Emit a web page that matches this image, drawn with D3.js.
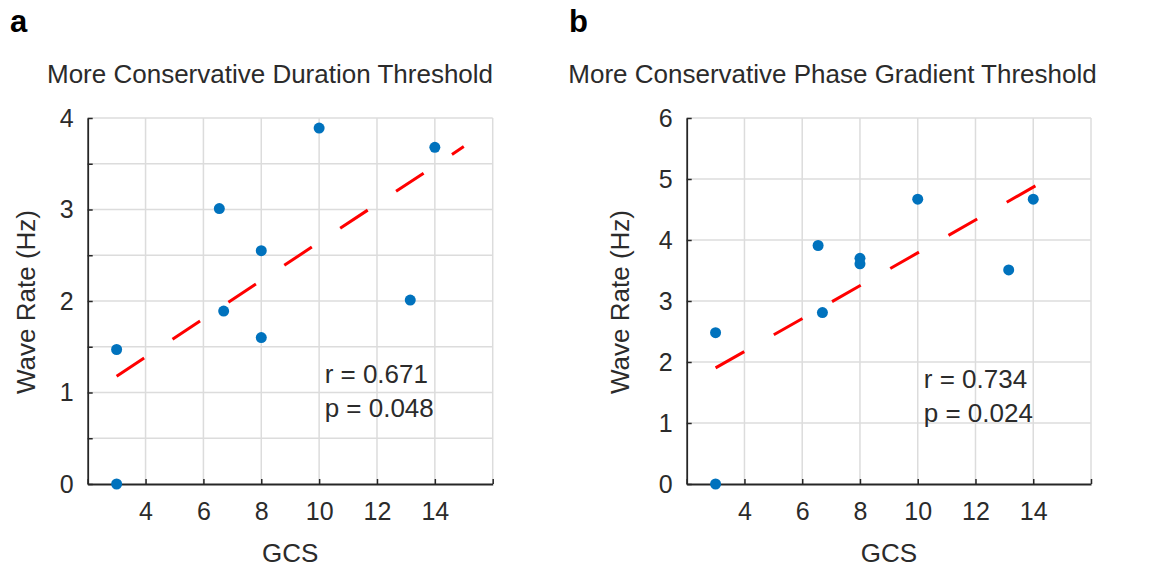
<!DOCTYPE html>
<html>
<head>
<meta charset="utf-8">
<script src="https://cdn.jsdelivr.net/npm/d3@7"></script>
<style>
  body { margin: 0; background: #fff; }
  svg text { font-family: "Liberation Sans", Arial, sans-serif; fill: #2b2b2b; }
  .axis path, .axis line { stroke: #262626; }
</style>
</head>
<body>
<svg id="container" width="1158" height="569"></svg>
<script>
// GCS score of each patient (same patients in both panels)
const gcs = [3, 3, 6.55, 6.7, 8, 8, 10, 13.15, 14];
// wave rate (Hz) under the two stricter thresholds
const rateDuration = [1.47, 0, 3.01, 1.89, 2.55, 1.6, 3.89, 2.01, 3.68];
const ratePhase = [2.48, 0, 3.91, 2.81, 3.70, 3.61, 4.67, 3.51, 4.67];

const panelLetters = ["a", "b"];
const titles = ["More Conservative Duration Threshold", "More Conservative Phase Gradient Threshold"];
const statTexts = [["r = 0.671", "p = 0.048"], ["r = 0.734", "p = 0.024"]];
const xTicks = [2, 4, 6, 8, 10, 12, 14, 16];
const xLabelled = [4, 6, 8, 10, 12, 14];
const yTicksA = [0, 0.5, 1, 1.5, 2, 2.5, 3, 3.5, 4];
const yTicksB = [0, 1, 2, 3, 4, 5, 6];

var svg = d3.select("#container");

function fit(xs, ys) {
	var mx = d3.mean(xs), my = d3.mean(ys);
	var sxy = d3.sum(xs, (x, i) => (x - mx) * (ys[i] - my));
	var sxx = d3.sum(xs, x => (x - mx) * (x - mx));
	var b = sxy / sxx;
	return {slope: b, icpt: my - b * mx};
}

function drawPanel(opt) {
	var g = svg.append("g");

	var x = d3.scaleLinear().domain([2, 16]).range([opt.left, opt.right]);
	var y = d3.scaleLinear().domain([0, opt.ymax]).range([484, 118]);

	// panel letter + title
	g.append("text")
		.attr("x", opt.letterX).attr("y", 31.5)
		.style("font-size", "31px").style("font-weight", "bold").style("fill", "#000")
		.text(opt.letter);
	g.append("text")
		.attr("x", opt.titleX).attr("y", 83)
		.attr("text-anchor", "middle")
		.style("font-size", "26px")
		.text(opt.title);

	// grid
	g.append("g").selectAll("line").data(xTicks.slice(1)).enter().append("line")
		.attr("x1", d => x(d)).attr("x2", d => x(d))
		.attr("y1", y(0)).attr("y2", y(opt.ymax))
		.attr("stroke", "#dcdcdc").attr("stroke-width", 1.5);
	g.append("g").selectAll("line").data(opt.yTicks.slice(1)).enter().append("line")
		.attr("x1", x(2)).attr("x2", x(16))
		.attr("y1", d => y(d)).attr("y2", d => y(d))
		.attr("stroke", "#dcdcdc").attr("stroke-width", 1.5);

	// axes
	var gX = g.append("g").attr("class", "axis")
		.attr("transform", "translate(0," + y(0) + ")")
		.call(d3.axisBottom(x).tickValues(xTicks).tickSizeInner(-5).tickSizeOuter(0).tickPadding(18)
			.tickFormat(d => xLabelled.indexOf(d) >= 0 ? d : ""));
	var gY = g.append("g").attr("class", "axis")
		.attr("transform", "translate(" + x(2) + ",0)")
		.call(d3.axisLeft(y).tickValues(opt.yTicks).tickSizeInner(-5).tickSizeOuter(0).tickPadding(14)
			.tickFormat(d => Number.isInteger(d) ? d : ""));
	g.selectAll(".axis path").attr("stroke-width", 1.8);
	g.selectAll(".axis line").attr("stroke-width", 1.5);
	g.selectAll(".axis text").style("font-size", "25px").style("font-family", null);

	// axis titles
	g.append("text")
		.attr("x", (opt.left + opt.right) / 2).attr("y", 562)
		.attr("text-anchor", "middle")
		.style("font-size", "26px")
		.text("GCS");
	g.append("text")
		.attr("transform", "translate(" + opt.ylabX + ",302) rotate(-90)")
		.attr("text-anchor", "middle")
		.style("font-size", "26px")
		.text("Wave Rate (Hz)");

	// least squares line, dashed
	var f = fit(gcs, opt.rates);
	g.append("line")
		.attr("x1", x(3)).attr("y1", y(f.icpt + f.slope * 3))
		.attr("x2", x(15)).attr("y2", y(f.icpt + f.slope * 15))
		.attr("stroke", "#ff0000").attr("stroke-width", 3)
		.attr("stroke-dasharray", "33,34");

	// points
	g.append("g").selectAll("circle").data(opt.rates).enter().append("circle")
		.attr("cx", (d, i) => x(gcs[i]))
		.attr("cy", d => y(d))
		.attr("r", 5.5)
		.attr("fill", "#0072bd");

	// stats
	g.append("g").selectAll("text").data(opt.stats).enter().append("text")
		.attr("x", x(opt.statPos[0]))
		.attr("y", (d, i) => y(opt.statPos[1 + i]))
		.style("font-size", "26px")
		.text(d => d);
}

drawPanel({letter: panelLetters[0], letterX: 10, title: titles[0], titleX: 270,
	left: 87.7, right: 492.7, ymax: 4, yTicks: yTicksA, rates: rateDuration,
	ylabX: 35, stats: statTexts[0], statPos: [10.19, 1.10, 0.735]});
drawPanel({letter: panelLetters[1], letterX: 569, title: titles[1], titleX: 832.5,
	left: 686.7, right: 1091, ymax: 6, yTicks: yTicksB, rates: ratePhase,
	ylabX: 629, stats: statTexts[1], statPos: [10.21, 1.57, 1.02]});
</script>
</body>
</html>
